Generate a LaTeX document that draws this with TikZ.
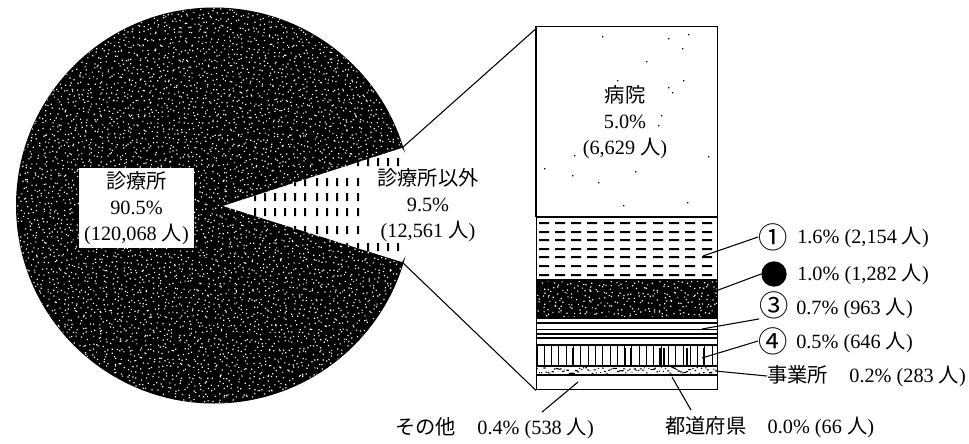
\documentclass[tikz,border=0pt]{standalone}
\usepackage{fontspec}
\setmainfont{Liberation Serif}
\newfontfamily\cjk{Noto Sans CJK JP}
\newcommand{\ren}{{\cjk 人}}
\begin{document}
\begin{tikzpicture}[x=.75pt,y=-.75pt,
  txt/.style={inner sep=0pt,font=\fontsize{15.2}{19.5}\selectfont,text=black},
  blockl/.style={txt,align=center,fill=white},
  rowl/.style={txt,anchor=west},
  mark1/.style={inner sep=0pt,font=\cjk\fontsize{22}{22}\selectfont,text=black},
  leader/.style={draw=black,line width=.8pt},
  border/.style={draw=black,line width=1.1pt}]
\useasboundingbox (0,0) rectangle (969,443);
\pgfmathsetseed{71}
% pie
\coordinate (pc) at (214,205.5);
\fill[black] (pc) circle[radius=148.5pt];
\begin{scope}
  \clip (pc) circle[radius=148pt];
  \fill[white] \foreach \i in {3,...,82}{\foreach \j in {1,...,81}{
     ({\i*5+rnd*5},{\j*5+rnd*5}) rectangle ++(1.2,1.2)}};
\end{scope}
% wedge
\coordinate (wa) at (223,206);
\coordinate (wu) at (402,148);
\coordinate (wl) at (402,262);
\fill[white] (wa) -- (wu) -- (415,170) -- (415,240) -- (wl) -- cycle;
\begin{scope}
  \clip (wa) -- (wu) -- (402,262) -- cycle;
  \fill[black] \foreach \x in {255,265,275,285,295,305,317,327,337,347,358,368,378,388,398}{
    \foreach \y in {162,182,197,212,230,247}{ (\x-1,\y-4) rectangle ++(2.2,8) }};
\end{scope}
\node[blockl,minimum width=99pt,minimum height=56pt] (other) at (428,205.5) {{\cjk 診療所以外}\\9.5\%\\(12,561 \ren)};
\node[blockl,minimum width=86pt,minimum height=60pt] (clinic) at (136.5,208) {{\cjk 診療所}\\90.5\%\\(120,068 \ren)};
% bar bands
\fill[black] (536,280) rectangle (717,318);
\begin{scope}
  \clip (536,281) rectangle (717,317);
  \fill[white] \foreach \i in {107,...,143}{\foreach \j in {56,...,63}{
     ({\i*5+rnd*5},{\j*5+rnd*5}) rectangle ++(1.2,1.2)}};
\end{scope}
% dashes
\fill[black] \foreach \x in {544,560,576,592,609,625,641,658,674,690,707}{
    \foreach \y in {223,232,240,249,257,266,275}{ (\x-5,\y-1) rectangle ++(10,2) }};
% horizontal lines
\foreach \y/\w in {323/.8,329/.6,334/.8,338/.8,345/1.2}{
  \draw[line width=\w pt] (536,\y) -- (717,\y);}
% vertical lines
\foreach \i in {0,...,24}{
  \draw[line width=.7pt] ({537+\i*7.3},346) -- ({537+\i*7.3},366);}
\foreach \x in {573,625,631,660,664,687,704}{
  \draw[line width=1.2pt] (\x,348) -- (\x,366);}
% speckled band
\fill[black] \foreach \i in {0,...,85}{
   ({537+\i*2.1},{367+rnd*6}) rectangle ++({.8+rnd*2},1.1)};
% sparse dots in the hospital band
\fill[black] \foreach \x/\y in {668/38,688/34,682/48,646/61,617/80,683/80,668/87,672/92,661/115,658/125,574/155,544/168,572/175,635/171,598/182,623/205,687/202,708/156,602/36}{
   (\x,\y) rectangle ++(1.4,1.4)};
% bar frame
\node[border,minimum width=135.75pt,minimum height=272.25pt,inner sep=0pt,anchor=north west] (bar) at (536,26) {};
\draw[line width=1.2pt] (536,217) -- (717,217) (536,280) -- (717,280) (536,318) -- (717,318) (536,366) -- (717,366) (536,375) -- (717,375);
\draw[line width=1.6pt] (536,26) -- (536,217);
% zoom lines
\draw[leader] (wu) -- ([yshift=-2pt]bar.north west);
\draw[leader] (wl) -- (bar.south west);
% hospital
\node[txt,align=center] (hosp) at (625,122) {{\cjk 病院}\\5.0\%\\(6,629 \ren)};
% row labels
\node[mark1] (m1) at (773,237) {①};
\node[rowl] (t1) at (797,237) {1.6\% (2,154 \ren)};
\node[circle,fill=black,minimum size=19pt,inner sep=0pt] (m2) at (774,274) {};
\node[rowl] (t2) at (797,274) {1.0\% (1,282 \ren)};
\node[mark1] (m3) at (774,305) {③};
\node[rowl] (t3) at (796,308) {0.7\% (963 \ren)};
\node[mark1] (m4) at (773,341) {④};
\node[rowl] (t4) at (796,342) {0.5\% (646 \ren)};
\node[rowl] (jig) at (767,376) {{\cjk 事業所}\hspace{16pt}0.2\% (283 \ren)};
\node[rowl] (tdf) at (665,427) {{\cjk 都道府県}\hspace{16pt}0.0\% (66 \ren)};
\node[rowl] (oth) at (395,428) {{\cjk その他}\hspace{16pt}0.4\% (538 \ren)};
% leaders
\coordinate (p1) at (703,256);
\coordinate (p2) at (705,295);
\coordinate (p3) at (702,329);
\coordinate (p4) at (702,358);
\coordinate (p5) at (715,371);
\coordinate (p6) at (672,377);
\coordinate (p7) at (578,382);
\draw[leader] (p1) -- (m1.west);
\draw[leader] (p2) -- (m2.west);
\draw[leader] (p3) -- (m3.south west);
\draw[leader] (p4) -- (m4.west);
\draw[leader] (p5) -- (jig.west);
\draw[leader] (p6) -- ([shift={(26,-6)}]tdf.north west);
\draw[leader] (p7) -- ([shift={(147,-5)}]oth.north west);
\end{tikzpicture}
\end{document}
